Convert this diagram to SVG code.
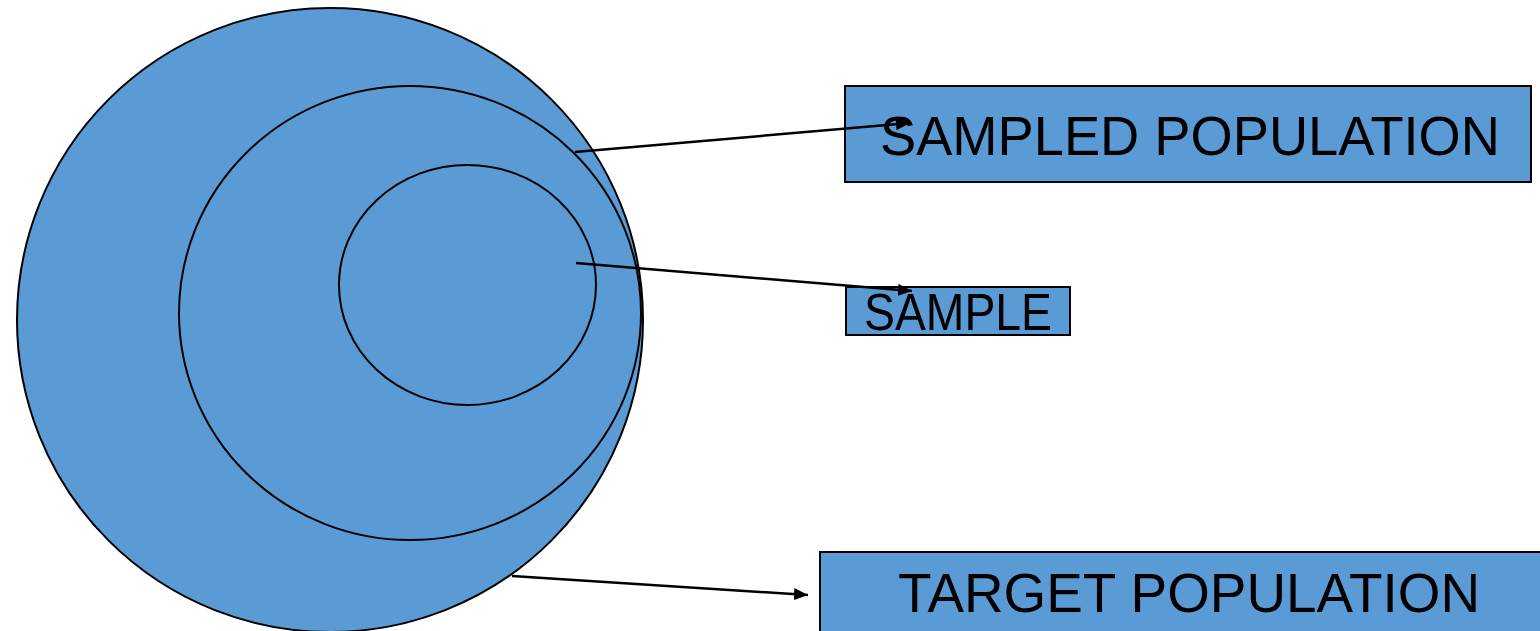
<svg xmlns="http://www.w3.org/2000/svg" width="1540" height="631" viewBox="0 0 1540 631">
  <style>
    .shape { fill: #5B9BD5; stroke: #000; stroke-width: 2; }
    .box { fill: #5B9BD5; stroke: #000; stroke-width: 2; }
    .label { font-family: "Liberation Sans", Arial, sans-serif; fill: #000; }
    .conn { stroke: #000; stroke-width: 2.5; fill: none; marker-end: url(#arrow); }
  </style>
  <defs>
    <marker id="arrow" viewBox="0 0 14 12" refX="14" refY="6" markerWidth="14" markerHeight="12" orient="auto" markerUnits="userSpaceOnUse">
      <path d="M0,0 L14,6 L0,12 z" fill="#000"/>
    </marker>
  </defs>
  <rect width="1540" height="631" fill="#fff"/>

  <g id="target-population">
    <ellipse class="shape" cx="330" cy="320" rx="313" ry="312"/>
  </g>
  <g id="sampled-population">
    <ellipse class="shape" cx="410" cy="313" rx="231" ry="227"/>
  </g>
  <g id="sample">
    <ellipse class="shape" cx="467.5" cy="285" rx="128.5" ry="120"/>
  </g>

  <g id="label-sampled-population">
    <rect class="box" x="845" y="86" width="686" height="96"/>
    <text class="label" x="880" y="155" font-size="56" textLength="620" lengthAdjust="spacingAndGlyphs">SAMPLED POPULATION</text>
  </g>
  <g id="label-sample">
    <rect class="box" x="846" y="287" width="224" height="48"/>
    <text class="label" x="864" y="330" font-size="52" textLength="188" lengthAdjust="spacingAndGlyphs">SAMPLE</text>
  </g>
  <g id="label-target-population">
    <rect class="box" x="820" y="552" width="730" height="90"/>
    <text class="label" x="898" y="612" font-size="56" textLength="582" lengthAdjust="spacingAndGlyphs">TARGET POPULATION</text>
  </g>

  <g id="connectors">
    <line class="conn" x1="575" y1="152" x2="910" y2="123"/>
    <line class="conn" x1="576" y1="263" x2="912" y2="291"/>
    <line class="conn" x1="512" y1="576" x2="808" y2="595"/>
  </g>
</svg>
